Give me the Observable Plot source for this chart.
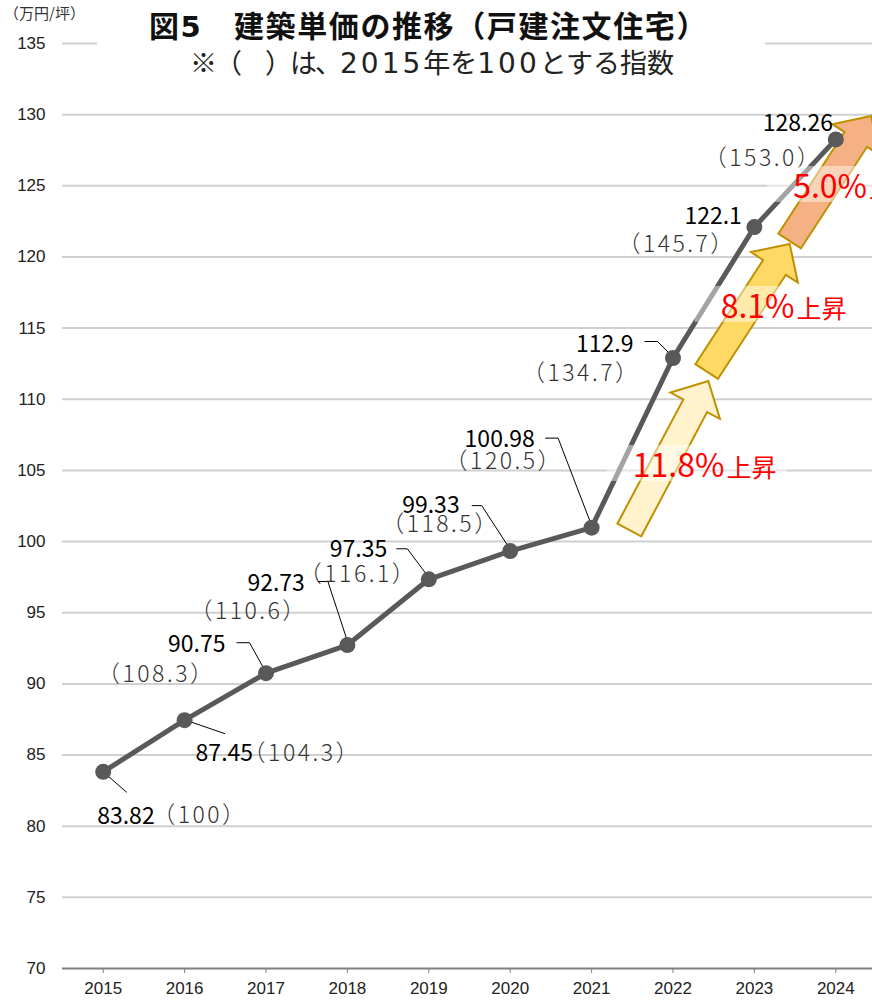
<!DOCTYPE html>
<html><head><meta charset="utf-8">
<script src="https://cdn.jsdelivr.net/npm/d3@7"></script>
<script src="https://cdn.jsdelivr.net/npm/@observablehq/plot@0.6"></script>
<style>
body{margin:0;background:#fff;}
#wrap{position:relative;width:872px;height:1000px;overflow:hidden;}
#chart svg{display:block;}
.unit{position:absolute;left:4px;top:5px;font:15px "Noto Sans CJK JP";line-height:1;color:#333;white-space:nowrap;}
.titlebox{position:absolute;left:97px;top:4px;width:668px;height:74px;background:#fff;}
.title{position:absolute;left:149px;top:9px;font:700 30px "Noto Sans CJK JP";line-height:1;letter-spacing:1.6px;color:#111;white-space:nowrap;}
.title .num{font-family:"DejaVu Sans";font-size:29px;}
.sub{position:absolute;left:190px;top:48px;font:27px "Noto Sans CJK JP";line-height:1;color:#222;white-space:nowrap;}
.sub .j{letter-spacing:-2px;}
.sub .num{font-family:"DejaVu Sans";font-size:28px;letter-spacing:3px;}
</style></head>
<body>
<div id="wrap">
  <div id="chart"></div>
  <div class="unit">（万円/坪）</div>
  <div class="titlebox"></div>
  <div class="title">図<span class="num">5</span>　建築単価の推移（戸建注文住宅）</div>
  <div class="sub"><span class="j">※（　）は、</span><span class="num">2015</span>年を<span class="num">100</span>とする指数</div>
</div>
<script>
// ---- data ----
const years = [2015, 2016, 2017, 2018, 2019, 2020, 2021, 2022, 2023, 2024];
const prices = [83.82, 87.45, 90.75, 92.73, 97.35, 99.33, 100.98, 112.9, 122.1, 128.26];
const indexLabels = ["100", "104.3", "108.3", "110.6", "116.1", "118.5", "120.5", "134.7", "145.7", "153.0"];
const yTicks = [70, 75, 80, 85, 90, 95, 100, 105, 110, 115, 120, 125, 130, 135];
const riseLabels = ["11.8%", "8.1%", "5.0%"];

const rows = years.map((year, i) => ({year, value: prices[i], index: indexLabels[i]}));

// ---- annotation layout (pixel offsets from each point) ----
const labelLayout = [
  {v: [-6, 45],   p: [49, 44],   leader: [[0, 0], [24, 21]]},
  {v: [11, 33],   p: [58, 33],   leader: [[0, 0], [41, 14]]},
  {v: [-98, -29], p: [-169, 1],  leader: [[-1, -3], [-16, -30], [-29, -30]]},
  {v: [-100, -61],p: [-158, -33],leader: [[0, -5], [-19, -63], [-29, -63]]},
  {v: [-99, -30], p: [-130, -5], leader: [[0, -2], [-21, -30], [-32, -30]]},
  {v: [-108, -45],p: [-129, -26],leader: [[0, -2], [-28, -45], [-38, -45]]},
  {v: [-127, -88],p: [-147, -66],leader: [[0, -3], [-33, -89], [-46, -89]]},
  {v: [-97, -13], p: [-151, 16], leader: [[0, -1], [-15, -16], [-28, -16]]},
  {v: [-70, -10], p: [-137, 18], leader: null},
  {v: [-73, -16], p: [-132, 19], leader: null}
];
// arrows in data space (year, value)
const arrowLayout = [
  {tail: [2021.47, 100.78], tip: [2022.44, 111.25], fill: "#FFF2CC", label: [2021.50, 104.5]},
  {tail: [2022.42, 111.92], tip: [2023.44, 120.88], fill: "#FFD966", label: [2022.58, 115.68]},
  {tail: [2023.44, 121.09], tip: [2024.44, 129.87], fill: "#F4B183", label: [2023.47, 124.11]}
];

const CJK = "Noto Sans CJK JP";

function arrowsMark(index, scales) {
  const {x, y} = scales;
  const g = d3.create("svg:g");
  arrowLayout.forEach(a => {
    const tx = x(a.tail[0]), ty = y(a.tail[1]), px = x(a.tip[0]), py = y(a.tip[1]);
    const dx = px - tx, dy = py - ty, len = Math.hypot(dx, dy);
    const ux = dx / len, uy = dy / len, nx = -uy, ny = ux;
    const w = 13.5, h = 28, L = 28;
    const bx = px - ux * L, by = py - uy * L;
    const pts = [[tx + nx * w, ty + ny * w], [bx + nx * w, by + ny * w], [bx + nx * h, by + ny * h], [px, py],
                 [bx - nx * h, by - ny * h], [bx - nx * w, by - ny * w], [tx - nx * w, ty - ny * w]];
    g.append("path")
      .attr("d", "M" + pts.map(p => p[0].toFixed(1) + "," + p[1].toFixed(1)).join("L") + "Z")
      .attr("fill", a.fill).attr("stroke", "#BF9000").attr("stroke-width", 2);
  });
  return g.node();
}

function leadersMark(index, scales) {
  const {x, y} = scales;
  const g = d3.create("svg:g");
  rows.forEach((r, i) => {
    const L = labelLayout[i].leader;
    if (!L) return;
    const px = x(r.year), py = y(r.value);
    g.append("path")
      .attr("d", "M" + L.map(([dx, dy]) => (px + dx) + "," + (py + dy)).join("L"))
      .attr("fill", "none").attr("stroke", "#000").attr("stroke-width", 1);
  });
  return g.node();
}

function riseMark(index, scales) {
  const {x, y} = scales;
  const g = d3.create("svg:g");
  arrowLayout.forEach((a, i) => {
    const lx = x(a.label[0]), ly = y(a.label[1]);
    g.append("rect").attr("x", lx - 25).attr("y", ly - 32).attr("width", 180).attr("height", 36)
      .attr("fill", "#fff").attr("fill-opacity", 0.45);
    const t = g.append("text").attr("x", lx + 1).attr("y", ly).attr("text-anchor", "start")
      .attr("fill", "#FF0000").attr("font-family", CJK).attr("font-size", 32);
    t.append("tspan").text(riseLabels[i]);
    t.append("tspan").attr("font-size", 25).attr("dx", 2).text("上昇");
  });
  return g.node();
}

const labelMarks = rows.flatMap((r, i) => [
  Plot.text([r], {x: "year", y: "value", text: d => String(d.value), textAnchor: "start", lineAnchor: "middle",
    dx: labelLayout[i].v[0], dy: labelLayout[i].v[1], fontSize: 23, fontFamily: CJK, fill: "#000"}),
  Plot.text([r], {x: "year", y: "value", text: d => "（" + d.index + "）", textAnchor: "start", lineAnchor: "middle",
    dx: labelLayout[i].p[0], dy: labelLayout[i].p[1], fontSize: 23, fontFamily: CJK, fontWeight: 300, fill: "#333"})
]);

const chart = Plot.plot({
  width: 872,
  height: 1000,
  marginLeft: 62,
  marginRight: 0,
  marginTop: 43,
  marginBottom: 32,
  style: {fontFamily: "Liberation Sans, Arial, sans-serif", fontSize: "17px", color: "#222", background: "#fff"},
  x: {type: "linear", domain: [2014.5, 2024.5], range: [62, 876]},
  y: {domain: [70, 135], range: [968, 43]},
  marks: [
    Plot.ruleY(yTicks.filter(t => t > 70), {stroke: "#d0d0d0", strokeWidth: 2}),
    Plot.axisY({ticks: yTicks, tickSize: 0, tickPadding: 17, label: null, tickFormat: d => String(d), fontSize: 17}),
    Plot.axisX({ticks: years, tickSize: 5, tickPadding: 8, label: null, tickFormat: d => String(d), stroke: "#808080", fontSize: 17}),
    Plot.ruleY([70], {stroke: "#808080", strokeWidth: 2}),
    arrowsMark,
    leadersMark,
    Plot.line(rows, {x: "year", y: "value", stroke: "#595959", strokeWidth: 5}),
    Plot.dot(rows, {x: "year", y: "value", r: 8, fill: "#595959"}),
    ...labelMarks,
    riseMark
  ]
});
// wider spacing for the index (parenthesised) labels, as in the reference
chart.querySelectorAll("text").forEach(t => {
  if (t.textContent.startsWith("（")) t.setAttribute("letter-spacing", "2.5");
});
document.getElementById("chart").appendChild(chart);
</script>
</body></html>
